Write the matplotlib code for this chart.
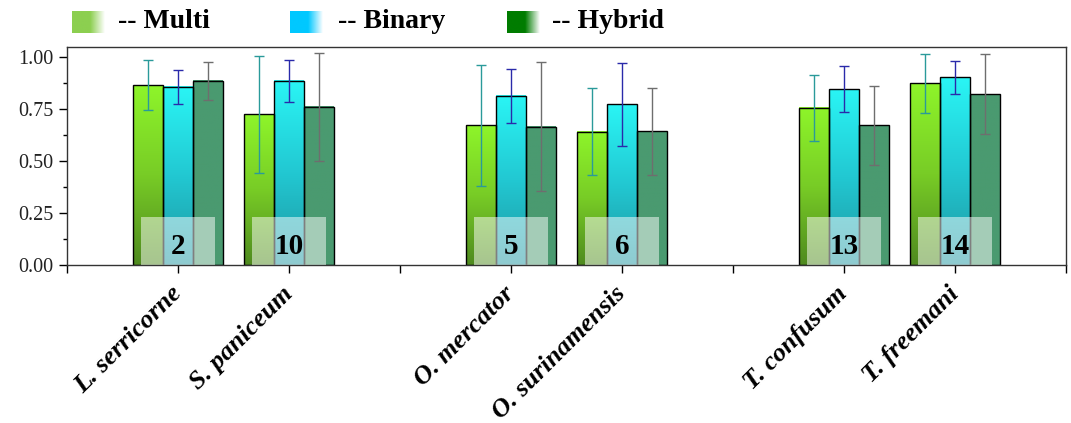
"""Grouped bar chart of Multi / Binary / Hybrid scores per species."""

import numpy as np
import matplotlib

matplotlib.use("Agg")
import matplotlib.pyplot as plt
from matplotlib.colors import LinearSegmentedColormap
from matplotlib.patches import Rectangle
from matplotlib.ticker import MultipleLocator

plt.rcParams["font.family"] = ["Liberation Serif", "DejaVu Serif"]

species = [
    "L. serricorne",
    "S. paniceum",
    "O. mercator",
    "O. surinamensis",
    "T. confusum",
    "T. freemani",
]
positions = [1, 2, 4, 5, 7, 8]
counts = ["2", "10", "5", "6", "13", "14"]

multi = [0.864, 0.724, 0.672, 0.641, 0.755, 0.873]
multi_err = [0.12, 0.28, 0.29, 0.21, 0.16, 0.14]
binary = [0.856, 0.885, 0.814, 0.772, 0.845, 0.902]
binary_err = [0.08, 0.10, 0.13, 0.20, 0.11, 0.08]
hybrid = [0.885, 0.760, 0.665, 0.643, 0.672, 0.822]
hybrid_err = [0.09, 0.26, 0.31, 0.21, 0.19, 0.19]

legend_labels = ["-- Multi", "-- Binary", "-- Hybrid"]

bar_cmaps = [
    LinearSegmentedColormap.from_list("multi", ["#4f8a1f", "#78cc26", "#8ef52a"]),
    LinearSegmentedColormap.from_list("binary", ["#1e96a0", "#22c8d2", "#2af5f5"]),
    LinearSegmentedColormap.from_list("hybrid", ["#4a9a70", "#4a9a70"]),
]
err_colors = ["#2a9a9a", "#2a2aaa", "#6e6e6e"]
legend_colors = ["#8ccf50", "#00c8ff", "#007c00"]


def gradient_bars(ax, xs, heights, errs, width, cmap, ecolor):
    grad = np.linspace(0, 1, 256).reshape(-1, 1)
    for x, h in zip(xs, heights):
        ax.imshow(
            grad,
            extent=[x - width / 2, x + width / 2, 0, h],
            origin="lower",
            aspect="auto",
            cmap=cmap,
            zorder=1,
        )
    ax.bar(xs, heights, width, fill=False, edgecolor="black", linewidth=1.0, zorder=2)
    ax.errorbar(
        xs, heights, yerr=errs, fmt="none", ecolor=ecolor,
        elinewidth=1.0, capsize=3.5, capthick=1.0, zorder=3,
    )


fig = plt.figure(figsize=(10.71, 4.23), dpi=100)
ax = fig.add_axes([0.0626, 0.3735, 0.9327, 0.5154])

width = 0.27
pos = np.array(positions, dtype=float)
series = [(multi, multi_err), (binary, binary_err), (hybrid, hybrid_err)]
for i, (vals, errs) in enumerate(series):
    gradient_bars(ax, pos + (i - 1) * width, vals, errs, width, bar_cmaps[i], err_colors[i])

# translucent boxes with the sample counts
for x, n in zip(pos, counts):
    ax.add_patch(Rectangle((x - 0.335, 0), 0.67, 0.23, facecolor="white",
                           alpha=0.5, edgecolor="none", zorder=4))
    ax.text(x, 0.09, n, ha="center", va="center", fontsize=21,
            fontweight="bold", zorder=5)

ax.set_xlim(0, 9)
ax.set_ylim(0, 1.048)
ax.set_xticks(range(10))
labels = [""] * 10
for p, s in zip(positions, species):
    labels[p] = s
ax.set_xticklabels(labels, rotation=45, ha="right", va="center",
                   rotation_mode="anchor", fontsize=19,
                   fontweight="bold", fontstyle="italic")
ax.yaxis.set_major_locator(MultipleLocator(0.25))
ax.yaxis.set_minor_locator(MultipleLocator(0.125))
ax.set_yticks([0, 0.25, 0.5, 0.75, 1.0])
ax.set_yticklabels(["0.00", "0.25", "0.50", "0.75", "1.00"], fontsize=14.5,
                   color="#222222")
ax.tick_params(axis="both", which="major", direction="out", length=6, width=1)
ax.tick_params(axis="y", which="minor", direction="out", length=3, width=1)
ax.tick_params(axis="x", pad=12)
for sp in ax.spines.values():
    sp.set_color("#333333")
    sp.set_linewidth(1.0)

# legend drawn by hand with fading swatches
W, H = 1071, 423
swatch_x = [72, 290, 507]
text_x = [118, 338, 552]
hgrad = np.linspace(0, 1, 256).reshape(1, -1)
for lbl, col, sx, tx in zip(legend_labels, legend_colors, swatch_x, text_x):
    sax = fig.add_axes([sx / W, 1 - 33 / H, 33 / W, 22 / H])
    cm = LinearSegmentedColormap.from_list(
        "lg", [(0, col), (0.55, col), (1, "white")])
    sax.imshow(hgrad, aspect="auto", cmap=cm)
    sax.set_axis_off()
    fig.text(tx / W, 1 - 22 / H, lbl, ha="left", va="center",
             fontsize=20, fontweight="bold")

fig.savefig("out.png", dpi=100)
